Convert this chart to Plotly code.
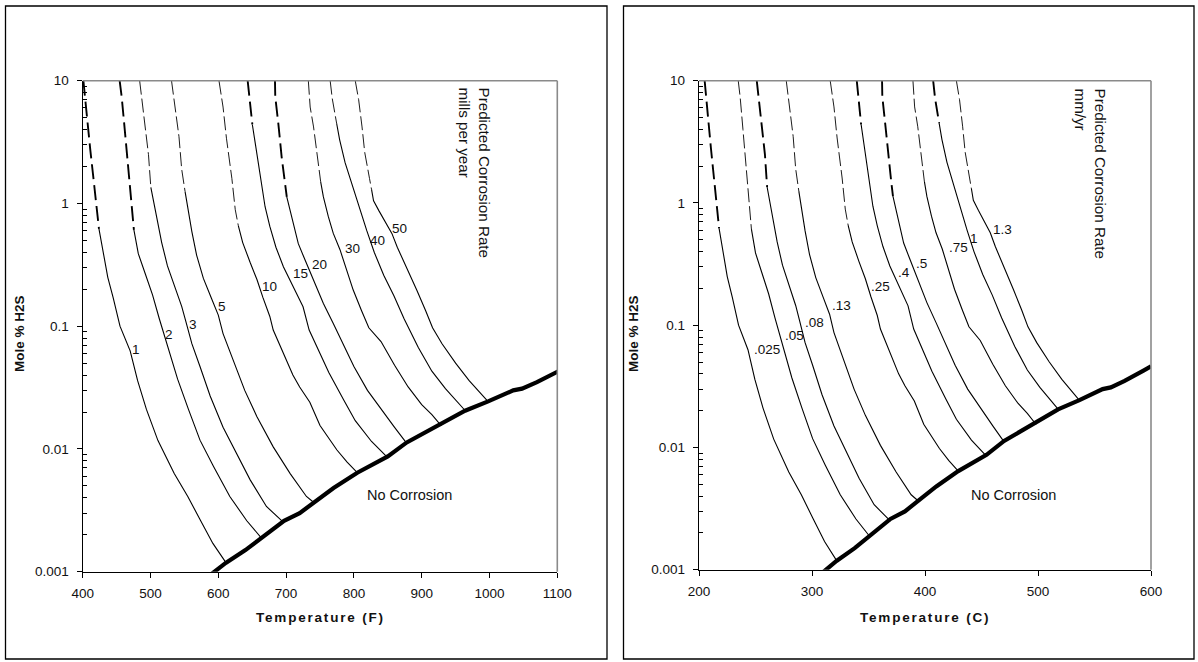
import math
import plotly.graph_objects as go

W, H = 1198, 662
FONT = "Liberation Sans, Arial, sans-serif"

# ---------------- data ----------------
labels_mpy = ["1", "2", "3", "5", "10", "15", "20", "30", "40", "50"]
labels_mmy = [".025", ".05", ".08", ".13", ".25", ".4", ".5", ".75", "1", "1.3"]

# temperature (F) and mole % H2S along each iso-corrosion curve
temp_F_1 = [401, 406, 411, 417, 421, 424, 431, 437, 445, 455, 470, 481, 494, 511, 535, 555, 574, 592, 612]
h2s_1 = [10, 5.0, 2.8, 1.4, 0.89, 0.62, 0.37, 0.25, 0.17, 0.10, 0.063, 0.036, 0.021, 0.0117, 0.0063, 0.0041, 0.0026, 0.0017, 0.00117]

temp_F_2 = [454.5, 457.5, 462, 467, 471, 475.5, 482, 492, 503, 513, 521, 531, 540, 556, 573, 593, 617, 642, 664]
h2s_2 = [10, 7.4, 4.0, 2.1, 1.13, 0.61, 0.39, 0.27, 0.18, 0.115, 0.082, 0.055, 0.037, 0.021, 0.0118, 0.0072, 0.0041, 0.0026, 0.00187]

temp_F_3 = [484, 489, 493, 497, 500.5, 505, 510, 516.5, 525, 537, 546, 552, 561, 573, 588, 607, 627, 647, 671, 697]
h2s_3 = [10, 6.1, 4.0, 2.5, 1.35, 1.0, 0.75, 0.48, 0.31, 0.20, 0.145, 0.11, 0.072, 0.047, 0.027, 0.015, 0.0092, 0.0056, 0.0034, 0.0025]

temp_F_5 = [531, 536, 542, 546, 551, 555, 561, 568, 578, 590, 600, 607, 622, 639, 657, 681, 706, 730, 740]
h2s_5 = [10, 6.1, 3.5, 1.9, 1.25, 0.91, 0.59, 0.38, 0.245, 0.168, 0.123, 0.087, 0.053, 0.030, 0.0183, 0.0104, 0.0063, 0.0041, 0.0037]

temp_F_10 = [601, 607, 612, 620, 625, 629.5, 636, 647, 657, 666, 676, 681, 695, 710, 720, 735, 750, 775, 790, 805]
h2s_10 = [10, 6.1, 3.4, 1.6, 0.89, 0.66, 0.48, 0.33, 0.24, 0.17, 0.12, 0.093, 0.062, 0.040, 0.032, 0.024, 0.0155, 0.0098, 0.0078, 0.0064]

temp_F_15 = [643.3, 645.8, 649, 650.2, 656.6, 664, 669, 676, 685, 696, 711, 725, 734, 748, 763, 785, 802, 826, 848]
h2s_15 = [10, 7.4, 5.1, 4.4, 2.56, 1.37, 0.94, 0.65, 0.44, 0.305, 0.21, 0.144, 0.093, 0.063, 0.042, 0.025, 0.017, 0.0115, 0.0087]

temp_F_20 = [683.6, 684, 688.5, 693.4, 698.4, 701, 705.7, 710.7, 718, 728, 740, 755, 769.6, 785, 800, 820, 840, 860, 878]
h2s_20 = [10, 7.4, 4.5, 2.4, 1.46, 1.13, 0.885, 0.65, 0.47, 0.346, 0.238, 0.153, 0.105, 0.070, 0.047, 0.030, 0.021, 0.015, 0.0111]

temp_F_30 = [732.8, 735.5, 740.5, 746, 751, 755, 762.3, 769.6, 779.5, 789.3, 799, 811, 822, 840, 860, 880, 900, 915, 929]
h2s_30 = [10, 6.1, 4.2, 2.3, 1.5, 1.13, 0.78, 0.57, 0.42, 0.287, 0.197, 0.135, 0.097, 0.075, 0.048, 0.032, 0.023, 0.019, 0.0154]

temp_F_40 = [765, 768, 774.5, 779, 787, 797, 808, 819, 830, 844, 859, 874, 895, 915, 935, 950, 966]
h2s_40 = [10, 7.2, 4.5, 3.3, 2.15, 1.43, 0.90, 0.60, 0.40, 0.26, 0.177, 0.115, 0.067, 0.043, 0.031, 0.025, 0.020]

temp_F_50 = [802, 807, 812, 816, 823, 826, 829, 837, 846, 856, 864, 878, 893, 906, 916, 930, 950, 970, 985, 998]
h2s_50 = [10, 7.0, 4.2, 2.6, 1.6, 1.3, 1.05, 0.87, 0.72, 0.57, 0.44, 0.30, 0.195, 0.133, 0.097, 0.072, 0.050, 0.036, 0.029, 0.0243]

# value where the dashed (extrapolated) part turns into the solid part
solid_start = [0.62, 0.61, 1.35, 1.25, 0.66, 4.4, 1.13, 1.5, 4.5, 1.3]

# "No Corrosion" boundary
boundary_F = [587, 611, 640, 664, 680, 697, 720, 740, 770, 805, 850, 878, 926, 964, 998, 1035, 1048, 1070, 1100, 1112]
boundary_h2s = [0.00093, 0.00118, 0.0015, 0.00189, 0.0022, 0.0026, 0.0030, 0.00365, 0.0048, 0.0064, 0.0087,
                0.0113, 0.0158, 0.0205, 0.0244, 0.030, 0.031, 0.035, 0.0425, 0.046]

# curve-label placement
label_left_F = [478.6, 527.8, 562.2, 604.9, 675.2, 720.5, 749, 797.7, 834.5, 867]
label_left_h2s = [0.064, 0.085, 0.104, 0.144, 0.21, 0.27, 0.32, 0.43, 0.50, 0.62]
label_right_C = [259.9, 284.1, 301.8, 326.3, 360.2, 381.4, 397.1, 429.5, 443.6, 469]
label_right_h2s = [0.063, 0.083, 0.105, 0.144, 0.209, 0.27, 0.32, 0.43, 0.51, 0.61]

x_ticks_F = [400, 500, 600, 700, 800, 900, 1000, 1100]
x_ticks_C = [200, 300, 400, 500, 600]
y_ticks = [0.001, 0.01, 0.1, 1, 10]
y_ticktext = ["0.001", "0.01", "0.1", "1", "10"]

curves = [(temp_F_1, h2s_1), (temp_F_2, h2s_2), (temp_F_3, h2s_3), (temp_F_5, h2s_5),
          (temp_F_10, h2s_10), (temp_F_15, h2s_15), (temp_F_20, h2s_20), (temp_F_30, h2s_30),
          (temp_F_40, h2s_40), (temp_F_50, h2s_50)]

# ---------------- styling ----------------
thick_left = [True, True, False, False, False, True, True, False, False, False]
thick_right = [True, False, True, False, False, True, True, False, True, False]


def f_to_c(vals):
    return [(v - 32) * 5 / 9 for v in vals]


def pxx(x):
    return x / W


def pxy(y):
    return 1 - y / H


fig = go.Figure()


def add_curve(xs, ys, k, xa, ya, thick):
    fig.add_trace(go.Scatter(
        x=xs[:k + 1], y=ys[:k + 1], mode="lines", xaxis=xa, yaxis=ya,
        line=dict(color="black", width=1.9 if thick else 0.9,
                  dash="15px,6px" if thick else "14px,4px"),
        showlegend=False, hoverinfo="skip"))
    fig.add_trace(go.Scatter(
        x=xs[k:], y=ys[k:], mode="lines", xaxis=xa, yaxis=ya,
        line=dict(color="black", width=1.1),
        showlegend=False, hoverinfo="skip"))


for i, (tf, h) in enumerate(curves):
    k = h.index(solid_start[i])
    add_curve(tf, h, k, "x", "y", thick_left[i])
    add_curve(f_to_c(tf), h, k, "x2", "y2", thick_right[i])

for xa, ya, xs in (("x", "y", boundary_F), ("x2", "y2", f_to_c(boundary_F))):
    fig.add_trace(go.Scatter(x=xs, y=boundary_h2s, mode="lines", xaxis=xa, yaxis=ya,
                             line=dict(color="black", width=4.2), showlegend=False, hoverinfo="skip"))

tickfont = dict(family=FONT, size=13.5, color="#111")
minor_vals = [m * 10 ** e for e in range(-3, 1) for m in range(2, 10)]

common_x = dict(showline=True, linecolor="black", linewidth=1.4, ticks="outside", ticklen=5,
                tickcolor="black", showgrid=False, zeroline=False, tickfont=tickfont,
                ticklabelstandoff=4)
common_y = dict(type="log", range=[-3, 1], showline=True, linecolor="black", linewidth=1.4,
                ticks="outside", ticklen=5, tickcolor="black", showgrid=False, zeroline=False,
                tickfont=tickfont, tickvals=y_ticks, ticktext=y_ticktext, ticklabelstandoff=5,
                minor=dict(tickvals=minor_vals, ticks="inside", ticklen=4, tickcolor="black", showgrid=False))

fig.update_layout(
    width=W, height=H, margin=dict(l=0, r=0, t=0, b=0, autoexpand=False),
    paper_bgcolor="white", plot_bgcolor="white",
    xaxis=dict(common_x, domain=[pxx(82.7), pxx(557.3)], range=[400, 1100], tickvals=x_ticks_F, anchor="y"),
    yaxis=dict(common_y, domain=[pxy(571.7), pxy(80.7)], anchor="x"),
    xaxis2=dict(common_x, domain=[pxx(699), pxx(1151)], range=[200, 600], tickvals=x_ticks_C, anchor="y2"),
    yaxis2=dict(common_y, domain=[pxy(569.7), pxy(80.7)], anchor="x2"),
)

shapes = []
for xr, yr in (("x domain", "y domain"), ("x2 domain", "y2 domain")):
    shapes.append(dict(type="line", xref=xr, yref=yr, x0=0, x1=1, y0=1, y1=1,
                       line=dict(color="#8a8a8a", width=1.6)))
    shapes.append(dict(type="line", xref=xr, yref=yr, x0=1, x1=1, y0=0, y1=1,
                       line=dict(color="#8a8a8a", width=1.6)))
# outer frames
shapes.append(dict(type="rect", xref="paper", yref="paper", x0=pxx(5.5), x1=pxx(607),
                   y0=pxy(659), y1=pxy(6), line=dict(color="black", width=1.3)))
shapes.append(dict(type="rect", xref="paper", yref="paper", x0=pxx(623.5), x1=pxx(1194),
                   y0=pxy(659), y1=pxy(6), line=dict(color="black", width=1.3)))
fig.update_layout(shapes=shapes)

ann = []
lab_font = dict(family=FONT, size=13.5, color="#111")
for t, xv, yv in zip(labels_mpy, label_left_F, label_left_h2s):
    ann.append(dict(x=xv, y=math.log10(yv), xref="x", yref="y", text=t, showarrow=False,
                    font=lab_font, xanchor="center", yanchor="middle"))
for t, xv, yv in zip(labels_mmy, label_right_C, label_right_h2s):
    ann.append(dict(x=xv, y=math.log10(yv), xref="x2", yref="y2", text=t, showarrow=False,
                    font=lab_font, xanchor="center", yanchor="middle"))

ann.append(dict(x=882.7, y=math.log10(0.00422), xref="x", yref="y", text="No Corrosion",
                showarrow=False, font=dict(family=FONT, size=14.5, color="#111"),
                xanchor="center", yanchor="middle"))
ann.append(dict(x=477.9, y=math.log10(0.0041), xref="x2", yref="y2", text="No Corrosion",
                showarrow=False, font=dict(family=FONT, size=14.5, color="#111"),
                xanchor="center", yanchor="middle"))

side_font = dict(family=FONT, size=15.2, color="#111")
ann.append(dict(x=pxx(474), y=pxy(86), xref="paper", yref="paper", textangle=90, align="left",
                text="Predicted Corrosion Rate<br>mills per year", showarrow=False, font=side_font,
                xanchor="center", yanchor="top"))
ann.append(dict(x=pxx(1090), y=pxy(86), xref="paper", yref="paper", textangle=90, align="left",
                text="Predicted Corrosion Rate<br>mm/yr", showarrow=False, font=side_font,
                xanchor="center", yanchor="top"))

title_font = dict(family=FONT, size=13.5, color="#111")
ann.append(dict(x=pxx(320), y=pxy(617), xref="paper", yref="paper", showarrow=False, font=title_font,
                xanchor="center", yanchor="middle",
                text="<b><span style='letter-spacing:1.8px'>Temperature (F)</span></b>"))
ann.append(dict(x=pxx(925), y=pxy(617), xref="paper", yref="paper", showarrow=False, font=title_font,
                xanchor="center", yanchor="middle",
                text="<b><span style='letter-spacing:1.8px'>Temperature (C)</span></b>"))
ann.append(dict(x=pxx(19), y=pxy(334), xref="paper", yref="paper", showarrow=False, font=title_font,
                xanchor="center", yanchor="middle", textangle=-90, text="<b>Mole % H2S</b>"))
ann.append(dict(x=pxx(633), y=pxy(334), xref="paper", yref="paper", showarrow=False, font=title_font,
                xanchor="center", yanchor="middle", textangle=-90, text="<b>Mole % H2S</b>"))
fig.update_layout(annotations=ann)

fig.write_html(
    "out.html",
    config={"responsive": False, "displayModeBar": False},
    post_script="document.body.style.margin='0';document.body.style.padding='0';"
                "document.body.style.overflow='hidden';",
)
